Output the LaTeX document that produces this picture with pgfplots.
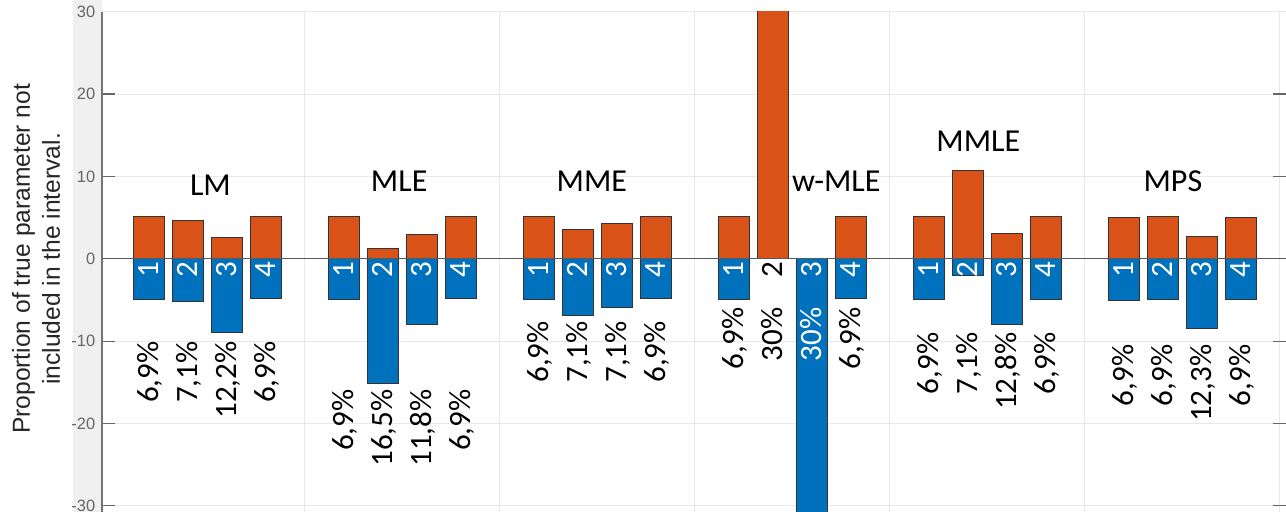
\documentclass[border=0pt]{standalone}
\usepackage{fontspec}
\setmainfont{Carlito}
\newfontfamily\arial{Liberation Sans}
\usepackage{pgfplots}
\pgfplotsset{compat=1.18}
\definecolor{mOrange}{HTML}{D95319}
\definecolor{mBlue}{HTML}{0072BD}

\tikzset{
  grp/.style={font=\fontsize{16}{19}\selectfont, anchor=base, inner sep=0pt},
  barlab/.style={font=\fontsize{15.5}{18}\selectfont, rotate=90, anchor=east,
    inner sep=0pt, text height=9.8pt, text depth=0pt},
}
% \lab[colour]{x}{y}{text}
\newcommand{\lab}[4][black]{\node[barlab,text=#1] at (axis cs:#2,#3) {#4};}

\begin{document}
\begin{tikzpicture}
\fill[black!6] (-14.7pt,0pt) rectangle (0pt,256pt);
\begin{axis}[
    scale only axis, width=592pt, height=250.15pt,
    xmin=-0.2, xmax=30.16, ymin=-30.75, ymax=30,
    ybar, bar width=0.8,
    xtick={5,10,...,30}, xticklabels={}, x tick style={draw=none},
    ytick={-30,-20,...,30},
    grid=major, grid style={black!9, line width=0.5pt},
    axis line style={black!9},
    tick align=inside, major tick length=6.5pt,
    y tick style={black!60, line width=0.6pt},
    /pgf/number format/assume math mode=true,
    yticklabel style={font=\arial\fontsize{8.2}{9}\selectfont, text=black!60, inner sep=0pt, xshift=-3.2pt},
    ylabel={Proportion of true parameter not\\included in the interval.},
    ylabel style={font=\arial\fontsize{12.3}{15}\selectfont, text=black!85, align=center,
      at={(axis description cs:-0.0557,0.506)}, anchor=center},
]
% proportion above the interval (orange) and below it (blue)
\addplot[ybar, bar shift=0pt, fill=mOrange, draw=black!80, line width=0.5pt] coordinates {
  (1,5.1) (2,4.7) (3,2.6) (4,5.1)
  (6,5.1) (7,1.3) (8,3.0) (9,5.1)
  (11,5.1) (12,3.6) (13,4.25) (14,5.1)
  (16,5.1) (17,35) (19,5.1)
  (21,5.1) (22,10.7) (23,3.1) (24,5.1)
  (26,5.0) (27,5.1) (28,2.7) (29,5.0)};
\addplot[ybar, bar shift=0pt, fill=mBlue, draw=black!80, line width=0.5pt] coordinates {
  (1,-5.0) (2,-5.25) (3,-8.95) (4,-4.85)
  (6,-5.0) (7,-15.2) (8,-7.95) (9,-4.85)
  (11,-5.0) (12,-6.85) (13,-5.9) (14,-4.85)
  (16,-4.9) (18,-35) (19,-4.85)
  (21,-5.0) (22,-2.0) (23,-7.95) (24,-4.9)
  (26,-5.1) (27,-4.9) (28,-8.45) (29,-5.0)};

\draw[black!65, line width=0.5pt] (axis cs:-0.2,0) -- (axis cs:30.16,0);

% group names
\node[grp] at (axis cs:2.58,7.74) {LM};
\node[grp] at (axis cs:7.42,8.14) {MLE};
\node[grp] at (axis cs:12.36,8.14) {MME};
\node[grp] at (axis cs:18.63,8.14) {w-MLE};
\node[grp] at (axis cs:22.27,13.0) {MMLE};
\node[grp] at (axis cs:27.26,8.14) {MPS};

% bar numbers
\lab[white]{1}{-0.3}{1} \lab[white]{2}{-0.3}{2} \lab[white]{3}{-0.3}{3} \lab[white]{4}{-0.3}{4}
\lab[white]{6}{-0.3}{1} \lab[white]{7}{-0.3}{2} \lab[white]{8}{-0.3}{3} \lab[white]{9}{-0.3}{4}
\lab[white]{11}{-0.3}{1} \lab[white]{12}{-0.3}{2} \lab[white]{13}{-0.3}{3} \lab[white]{14}{-0.3}{4}
\lab[white]{16}{-0.3}{1} \lab{17}{-0.3}{2} \lab[white]{18}{-0.3}{3} \lab[white]{19}{-0.3}{4}
\lab[white]{21}{-0.3}{1} \lab[white]{22}{-0.3}{2} \lab[white]{23}{-0.3}{3} \lab[white]{24}{-0.3}{4}
\lab[white]{26}{-0.3}{1} \lab[white]{27}{-0.3}{2} \lab[white]{28}{-0.3}{3} \lab[white]{29}{-0.3}{4}

% percentages
\lab{1}{-10.0}{6,9\%} \lab{2}{-10.0}{7,1\%} \lab{3}{-10.0}{12,2\%} \lab{4}{-10.0}{6,9\%}
\lab{6}{-15.85}{6,9\%} \lab{7}{-15.85}{16,5\%} \lab{8}{-15.85}{11,8\%} \lab{9}{-15.85}{6,9\%}
\lab{11}{-7.55}{6,9\%} \lab{12}{-7.55}{7,1\%} \lab{13}{-7.55}{7,1\%} \lab{14}{-7.55}{6,9\%}
\lab{16}{-5.9}{6,9\%} \lab{17}{-5.9}{30\%} \lab[white]{18}{-5.9}{30\%} \lab{19}{-5.9}{6,9\%}
\lab{21}{-8.95}{6,9\%} \lab{22}{-8.95}{7,1\%} \lab{23}{-8.95}{12,8\%} \lab{24}{-8.95}{6,9\%}
\lab{26}{-10.4}{6,9\%} \lab{27}{-10.4}{6,9\%} \lab{28}{-10.4}{12,3\%} \lab{29}{-10.4}{6,9\%}
\end{axis}
\draw[black!55, line width=0.7pt] (0pt,0pt) -- (0pt,250.15pt);
\pgfresetboundingbox
\path[use as bounding box] (-51pt,0pt) rectangle (592pt,256pt);
\end{tikzpicture}
\end{document}
